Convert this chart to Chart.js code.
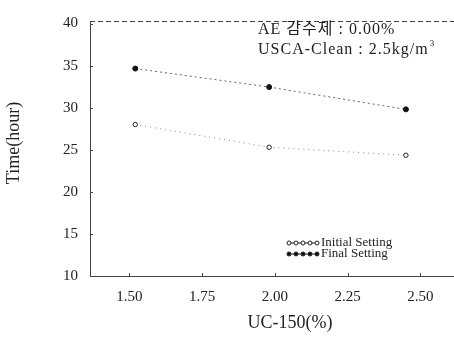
<!DOCTYPE html>
<html>
<head>
<meta charset="utf-8">
<script src="https://cdn.jsdelivr.net/npm/chart.js@4"></script>
<style>
  html, body { margin: 0; padding: 0; background: #fff; }
  #wrap { width: 454px; height: 338px; }
</style>
</head>
<body>
<div id="wrap"><canvas id="chart" width="454" height="338"></canvas></div>
<script>
// ── data ─────────────────────────────────────────────────
const ucDose      = [1.52, 1.98, 2.45];          // UC-150 (%)
const initialTime = [28.0, 25.3, 24.35];         // hours
const finalTime   = [34.65, 32.45, 29.8];        // hours
const xTicks      = [1.5, 1.75, 2.0, 2.25, 2.5];
const yTicks      = [10, 15, 20, 25, 30, 35, 40];
const seriesNames = ['Initial Setting', 'Final Setting'];
const noteLines   = ['AE 감수제 : 0.00%', 'USCA-Clean : 2.5kg/m'];

const SERIF = "'Liberation Serif', 'Times New Roman', serif";
const AXIS_COLOR = '#444';

// ── extra drawing: frame top, inward ticks, titles, note, legend ──
const decor = {
  id: 'decor',
  afterDraw(chart) {
    const { ctx, chartArea: a, scales: { x, y } } = chart;
    ctx.save();

    // dashed top frame, bottom axis carried to the edge
    ctx.strokeStyle = AXIS_COLOR;
    ctx.lineWidth = 1;
    ctx.setLineDash([5, 3]);
    ctx.beginPath();
    ctx.moveTo(a.left, a.top + 0.5);
    ctx.lineTo(454, a.top + 0.5);
    ctx.stroke();
    ctx.setLineDash([]);
    ctx.beginPath();
    ctx.moveTo(a.right - 1, Math.round(a.bottom) + 0.5);
    ctx.lineTo(454, Math.round(a.bottom) + 0.5);
    ctx.stroke();

    // small inward ticks
    ctx.beginPath();
    yTicks.forEach(v => {
      const py = Math.round(y.getPixelForValue(v)) + 0.5;
      ctx.moveTo(a.left, py); ctx.lineTo(a.left + 3, py);
    });
    xTicks.forEach(v => {
      const px = Math.round(x.getPixelForValue(v)) + 0.5;
      ctx.moveTo(px, a.bottom); ctx.lineTo(px, a.bottom - 3);
    });
    ctx.stroke();

    // axis titles
    ctx.fillStyle = '#222';
    ctx.font = `18px ${SERIF}`;
    ctx.textAlign = 'center';
    ctx.textBaseline = 'middle';
    ctx.fillText('UC-150(%)', 290, 323);
    ctx.save();
    ctx.translate(14, 143);
    ctx.rotate(-Math.PI / 2);
    ctx.fillText('Time(hour)', 0, 0);
    ctx.restore();

    // note in the upper right
    ctx.textAlign = 'left';
    ctx.font = `16px ${SERIF}, 'Noto Sans CJK KR'`;
    ctx.letterSpacing = '1px';
    ctx.fillText(noteLines[0], 258, 30);
    ctx.fillText(noteLines[1], 258, 50);
    const w = ctx.measureText(noteLines[1]).width;
    ctx.letterSpacing = '0px';
    ctx.font = `9px ${SERIF}`;
    ctx.fillText('3', 258 + w + 1, 44);

    // legend
    const ds = chart.data.datasets;
    ctx.font = `13px ${SERIF}`;
    [243, 254].forEach((ly, i) => {
      const d = ds[i];
      ctx.strokeStyle = '#222';
      ctx.beginPath();
      ctx.moveTo(287, ly); ctx.lineTo(318, ly);
      ctx.stroke();
      for (let k = 0; k < 5; k++) {
        ctx.beginPath();
        ctx.arc(289 + k * 7, ly, 2, 0, Math.PI * 2);
        ctx.fillStyle = d.pointBackgroundColor;
        ctx.fill();
        ctx.stroke();
      }
      ctx.fillStyle = '#222';
      ctx.fillText(seriesNames[i], 321, ly);
    });

    ctx.restore();
  }
};

new Chart(document.getElementById('chart'), {
  type: 'line',
  data: {
    datasets: [
      {
        label: seriesNames[0],
        data: ucDose.map((v, i) => ({ x: v, y: initialTime[i] })),
        borderColor: '#888',
        borderWidth: 1,
        borderDash: [1, 4],
        pointRadius: 2.2,
        pointBorderWidth: 1,
        pointBorderColor: '#222',
        pointBackgroundColor: '#fff',
      },
      {
        label: seriesNames[1],
        data: ucDose.map((v, i) => ({ x: v, y: finalTime[i] })),
        borderColor: '#666',
        borderWidth: 1,
        borderDash: [2, 3],
        pointRadius: 2.5,
        pointBorderWidth: 1,
        pointBorderColor: '#111',
        pointBackgroundColor: '#111',
      },
    ],
  },
  options: {
    responsive: false,
    animation: false,
    layout: { padding: { top: 7, right: 0, left: 0, bottom: 0 } },
    plugins: { legend: { display: false }, tooltip: { enabled: false } },
    scales: {
      x: {
        type: 'linear',
        min: 1.3644,
        max: 2.598,
        afterBuildTicks: s => { s.ticks = xTicks.map(v => ({ value: v })); },
        afterFit: s => { s.height = 62; },
        grid: { display: false, drawTicks: false },
        border: { display: true, color: AXIS_COLOR, width: 1 },
        ticks: {
          color: '#222',
          padding: 12,
          maxRotation: 0,
          autoSkip: false,
          font: { family: SERIF, size: 15 },
          callback: v => v.toFixed(2),
        },
      },
      y: {
        type: 'linear',
        min: 10,
        max: 40.3,
        afterBuildTicks: s => { s.ticks = yTicks.map(v => ({ value: v })); },
        afterFit: s => { s.width = 90; },
        grid: { display: false, drawTicks: false },
        border: { display: true, color: AXIS_COLOR, width: 1, dash: [4, 1] },
        ticks: {
          color: '#222',
          padding: 12,
          autoSkip: false,
          font: { family: SERIF, size: 15 },
        },
      },
    },
  },
  plugins: [decor],
});
</script>
</body>
</html>
